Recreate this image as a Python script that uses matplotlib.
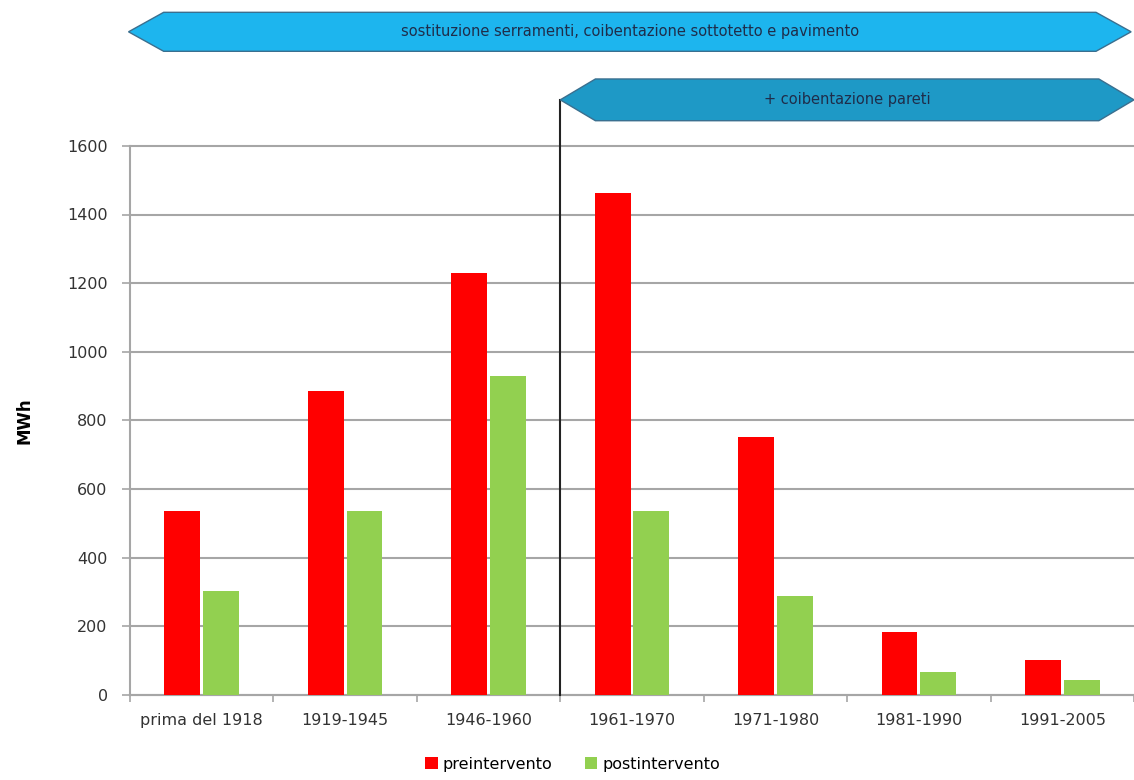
import numpy as np
import matplotlib
matplotlib.use("Agg")
import matplotlib.pyplot as plt
from matplotlib.patches import Polygon
from matplotlib.transforms import blended_transform_factory

# ============================================================
# DATA
# ============================================================

categories = [
    "prima del 1918",
    "1919-1945",
    "1946-1960",
    "1961-1970",
    "1971-1980",
    "1981-1990",
    "1991-2005",
]

preintervento = [537, 886, 1230, 1464, 752, 183, 102]
postintervento = [302, 535, 930, 535, 288, 67, 43]

series_labels = ["preintervento", "postintervento"]

banner_all = "sostituzione serramenti, coibentazione sottotetto e pavimento"
banner_walls = "+ coibentazione pareti"

yticks = [0, 200, 400, 600, 800, 1000, 1200, 1400, 1600]

# ============================================================
# STYLE
# ============================================================

RED = "#FF0000"
GREEN = "#92D050"
GRID = "#A6A6A6"
BLUE_LIGHT = "#1DB5EE"
BLUE_DARK = "#1E99C6"
TEXT_DARK = "#1F2D4A"

plt.rcParams["font.family"] = ["DejaVu Sans"]

fig = plt.figure(figsize=(11.34, 7.80), dpi=100)
ax = fig.add_axes([0.1146, 0.109, 0.8854, 0.704])

x = np.arange(len(categories))
w = 0.25
off = 0.135

ax.bar(x - off, preintervento, w, color=RED, label=series_labels[0], zorder=3)
ax.bar(x + off, postintervento, w, color=GREEN, label=series_labels[1], zorder=3)

ax.set_xlim(-0.5, len(categories) - 0.5)
ax.set_ylim(0, 1600)
ax.set_yticks(yticks)
ax.set_yticklabels([str(v) for v in yticks], fontsize=11.5, color="#333333")

ax.set_xticks(x)
ax.set_xticklabels(categories, fontsize=11.5, color="#333333")
ax.tick_params(axis="x", which="major", length=0, pad=13)
ax.set_xticks(np.arange(-0.5, len(categories), 1.0), minor=True)
ax.tick_params(axis="x", which="minor", length=5, color=GRID, width=1.2)
ax.tick_params(axis="y", length=6, color=GRID, width=1.2, pad=10)

ax.yaxis.grid(True, color=GRID, linewidth=1.5, zorder=0)
ax.set_axisbelow(True)
for gl in ax.get_ygridlines():
    gl.set_clip_on(False)

for s in ["top", "right"]:
    ax.spines[s].set_visible(False)
for s in ["left", "bottom"]:
    ax.spines[s].set_color(GRID)
    ax.spines[s].set_linewidth(1.5)

ax.set_ylabel("MWh", fontsize=12, fontweight="bold", labelpad=24)

# ============================================================
# BANNERS
# ============================================================

trans = blended_transform_factory(ax.transData, ax.transAxes)


def banner(x0, x1, yc, h, color, text, tip=0.245):
    pts = [
        (x0, yc),
        (x0 + tip, yc + h / 2),
        (x1 - tip, yc + h / 2),
        (x1, yc),
        (x1 - tip, yc - h / 2),
        (x0 + tip, yc - h / 2),
    ]
    poly = Polygon(pts, closed=True, facecolor=color, edgecolor="#3A6F8F",
                   linewidth=1.0, transform=trans, clip_on=False, zorder=5)
    ax.add_patch(poly)
    ax.text((x0 + x1) / 2, yc, text, transform=trans, ha="center",
            va="center", fontsize=10.5, color=TEXT_DARK, zorder=6,
            clip_on=False)


sep = 2.5

banner(-0.51, 6.48, 1.2077, 0.071, BLUE_LIGHT, banner_all)
banner(sep, 6.5, 1.0838, 0.076, BLUE_DARK, banner_walls)

ax.plot([sep, sep], [0, 1.0838], color="#222222", linewidth=1.5,
        transform=trans, clip_on=False, zorder=4)

# ============================================================
# LEGEND
# ============================================================

fig.legend(
    loc="lower center",
    bbox_to_anchor=(0.505, -0.008),
    ncol=2,
    frameon=False,
    fontsize=11.5,
    handlelength=0.8,
    handleheight=0.8,
    handletextpad=0.3,
    columnspacing=2.0,
)

fig.savefig("out.png", dpi=100)
